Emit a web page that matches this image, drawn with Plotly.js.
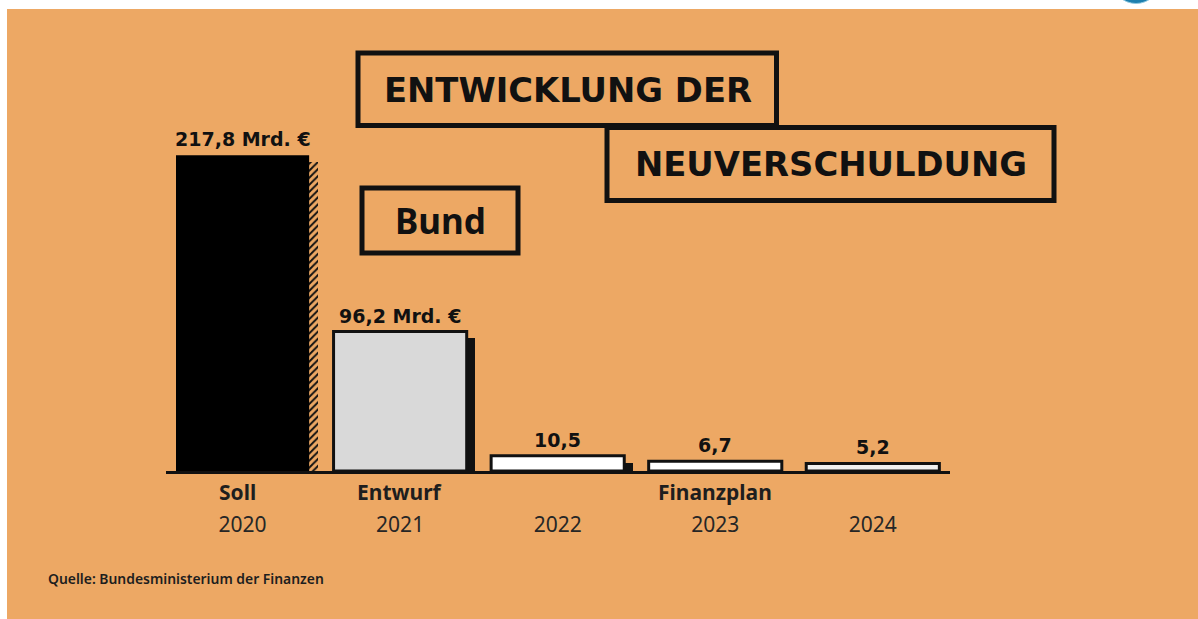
<!DOCTYPE html>
<html>
<head>
<meta charset="utf-8">
<script src="https://cdn.plot.ly/plotly-3.0.1.min.js"></script>
<style>html,body{margin:0;padding:0;background:#fff;}#chart{width:1198px;height:619px;}</style>
</head>
<body>
<div id="chart"></div>
<script>
// ---- data ----
const categories = ['2020', '2021', '2022', '2023', '2024'];
const phases = ['Soll', 'Entwurf', '', 'Finanzplan', ''];
const values = [217.8, 96.2, 10.5, 6.7, 5.2];
const valueLabels = ['217,8 Mrd. €', '96,2 Mrd. €', '10,5', '6,7', '5,2'];
const titleLine1 = 'ENTWICKLUNG DER';
const titleLine2 = 'NEUVERSCHULDUNG';
const subtitle = 'Bund';
const source = 'Quelle: Bundesministerium der Finanzen';

// ---- styling ----
const W = 1198, H = 619;
const M = {l: 166, r: 248, t: 123, b: 148};
const PW = W - M.l - M.r, PH = H - M.t - M.b;
const px = x => (x - M.l) / PW;
const py = y => (H - M.b - y) / PH;
const ORANGE = 'rgb(237,168,100)';
const INK = '#111111';
const CLEAR = 'rgba(0,0,0,0)';
const barFill = ['#000000', '#d9d9d9', '#ffffff', '#ffffff', '#f0f0f0'];
const barLine = [0, 3, 3, 3, 3];
const solidShadowColor = [CLEAR, INK, INK, CLEAR, CLEAR];
const hatchShadowOpacity = [1, 0, 0, 0, 0];
const barWidth = 0.845;
const shadowDx = 0.055;
const shadowDrop = 4.8;

const shadowBase = values.map(() => -shadowDrop);
const shadowSolid = {
  type: 'bar', x: categories, y: values, base: shadowBase,
  width: barWidth, offset: -barWidth / 2 + shadowDx,
  marker: {color: solidShadowColor, line: {width: 0}},
  hoverinfo: 'skip', showlegend: false
};
const shadowHatch = {
  type: 'bar', x: categories, y: values, base: shadowBase,
  width: barWidth, offset: -barWidth / 2 + shadowDx,
  marker: {
    color: ORANGE, opacity: hatchShadowOpacity,
    pattern: {shape: '/', fgcolor: INK, bgcolor: ORANGE, size: 5, solidity: 0.4},
    line: {width: 0}
  },
  hoverinfo: 'skip', showlegend: false
};
const bars = {
  type: 'bar', x: categories, y: values,
  width: barWidth,
  marker: {color: barFill, line: {color: INK, width: barLine}},
  showlegend: false
};

const annotations = [];
categories.forEach((c, i) => {
  annotations.push({
    x: i, y: values[i], xref: 'x', yref: 'y', text: valueLabels[i],
    showarrow: false, yanchor: 'bottom', yshift: 3,
    font: {family: 'DejaVu Sans', size: 19, color: INK, weight: 700}
  });
  if (phases[i]) {
    annotations.push({
      x: i, y: 0, xref: 'x', yref: 'paper', text: phases[i],
      showarrow: false, yanchor: 'middle', yshift: -21, xshift: i === 0 ? -5 : 0,
      font: {family: 'Noto Sans', size: 21, color: '#1e1e1e', weight: 700}
    });
  }
});
annotations.push(
  {x: px(567.5), y: py(90), xref: 'paper', yref: 'paper', text: titleLine1, showarrow: false,
   xanchor: 'center', yanchor: 'middle', font: {family: 'DejaVu Sans', size: 33.8, color: INK, weight: 700}},
  {x: px(830.5), y: py(164), xref: 'paper', yref: 'paper', text: titleLine2, showarrow: false,
   xanchor: 'center', yanchor: 'middle', font: {family: 'DejaVu Sans', size: 33.8, color: INK, weight: 700}},
  {x: px(440), y: py(220), xref: 'paper', yref: 'paper', text: subtitle, showarrow: false,
   xanchor: 'center', yanchor: 'middle', font: {family: 'Noto Sans', size: 35, color: INK, weight: 700}},
  {x: px(46), y: py(578), xref: 'paper', yref: 'paper', text: source, showarrow: false,
   xanchor: 'left', yanchor: 'middle', font: {family: 'Noto Sans', size: 13.9, color: '#1e1e1e', weight: 600}}
);

const rectPx = (x0, y0, x1, y1, extra) => Object.assign({
  type: 'rect', xref: 'paper', yref: 'paper',
  x0: px(x0), x1: px(x1), y0: py(y1), y1: py(y0)
}, extra);

const shapes = [
  rectPx(7, 9, 1210, 640, {fillcolor: ORANGE, line: {width: 0}, layer: 'below'}),
  rectPx(358, 53, 776.5, 125.5, {line: {color: INK, width: 5}}),
  rectPx(607, 127.5, 1054, 200.5, {line: {color: INK, width: 5}}),
  rectPx(362, 188, 518, 253, {line: {color: INK, width: 5}}),
  Object.assign(rectPx(1113, -40, 1159, 3.5, {line: {color: '#8fc8e0', width: 1}, fillcolor: '#1d7fae'}), {type: 'circle'})
];

const layout = {
  width: W, height: H, autosize: false,
  margin: M,
  paper_bgcolor: '#ffffff', plot_bgcolor: 'rgba(0,0,0,0)',
  barmode: 'overlay', bargap: 0,
  xaxis: {
    type: 'category', categoryorder: 'array', categoryarray: categories,
    range: [-0.486, 4.49], showgrid: false, zeroline: false,
    showline: true, linecolor: INK, linewidth: 3, ticks: '',
    ticklabelstandoff: 33,
    tickfont: {family: 'Noto Sans', size: 21, color: '#262626'},
    fixedrange: true
  },
  yaxis: {range: [0, 240], visible: false, fixedrange: true},
  shapes: shapes,
  annotations: annotations,
  showlegend: false
};

Plotly.newPlot('chart', [shadowSolid, shadowHatch, bars], layout, {staticPlot: true, displayModeBar: false});
</script>
</body>
</html>
